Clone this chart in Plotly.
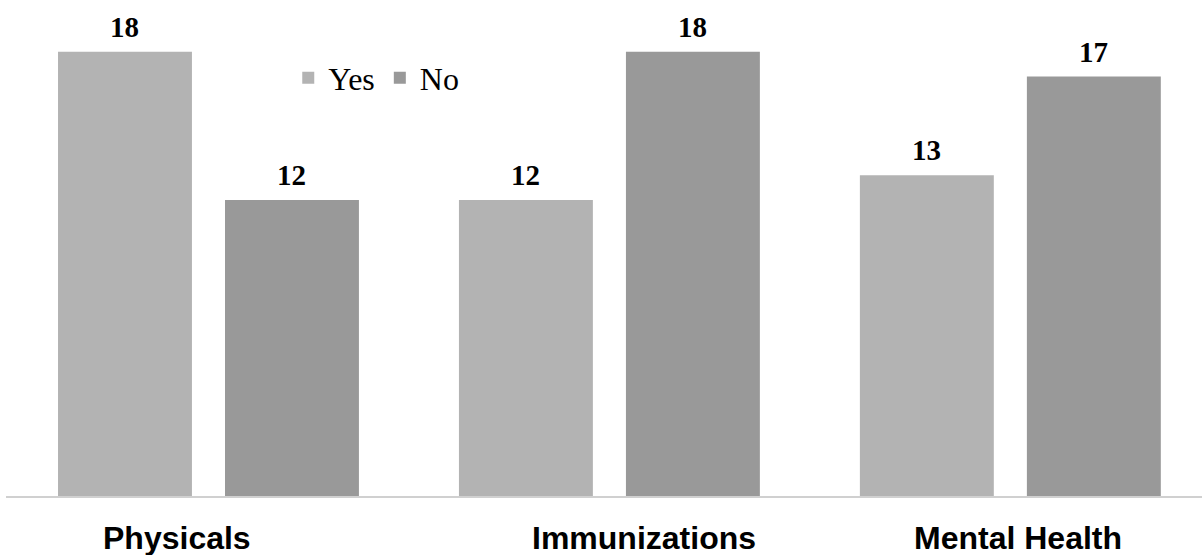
import plotly.graph_objects as go

categories = ["Physicals", "Immunizations", "Mental Health"]
yes_values = [18, 12, 13]
no_values = [12, 18, 17]
series_names = ["Yes", "No"]

YES_COLOR = "#b3b3b3"
NO_COLOR = "#999999"

fig = go.Figure()
fig.add_trace(go.Bar(name=series_names[0], x=categories, y=yes_values,
                     marker=dict(color=YES_COLOR, line=dict(width=0))))
fig.add_trace(go.Bar(name=series_names[1], x=categories, y=no_values,
                     marker=dict(color=NO_COLOR, line=dict(width=0))))

# value labels above bars
slot_shift = 83.5
annotations = []
for vals, sh in ((yes_values, -slot_shift), (no_values, slot_shift)):
    for c, v in zip(categories, vals):
        annotations.append(dict(
            x=c, y=v, xref="x", yref="y", text="<b>" + str(v) + "</b>", showarrow=False,
            xshift=sh, yshift=7, yanchor="bottom",
            font=dict(family="Liberation Serif", size=29, color="#000000"),
        ))

# category labels below axis
label_shifts = [-31, 35, 8]
for c, sh in zip(categories, label_shifts):
    annotations.append(dict(
        x=c, y=-0.084, xref="x", yref="paper", text="<b>" + c + "</b>",
        showarrow=False, xshift=sh, yanchor="middle",
        font=dict(family="Liberation Sans", size=32, color="#000000"),
    ))

fig.update_layout(
    width=1202, height=555,
    margin=dict(l=6, r=0, t=0, b=59),
    paper_bgcolor="white", plot_bgcolor="white",
    barmode="group", bargap=0.167, bargroupgap=0.198,
    showlegend=True,
    legend=dict(orientation="h", x=0.236, xanchor="left", y=0.843, yanchor="middle",
                bgcolor="rgba(0,0,0,0)",
                font=dict(family="Liberation Serif", size=32, color="#000000"),
                itemwidth=30, tracegroupgap=0),
    annotations=annotations,
    xaxis=dict(range=[-0.505, 2.478], showticklabels=False, showgrid=False,
               zeroline=False, showline=True, linecolor="#d0d0d0", linewidth=1.5,
               ticks=""),
    yaxis=dict(range=[0, 20.1], visible=False, showgrid=False, zeroline=False),
)

fig.write_html("out.html", config={"displayModeBar": False},
               post_script="document.body.style.margin='0';document.body.style.overflow='hidden';")
